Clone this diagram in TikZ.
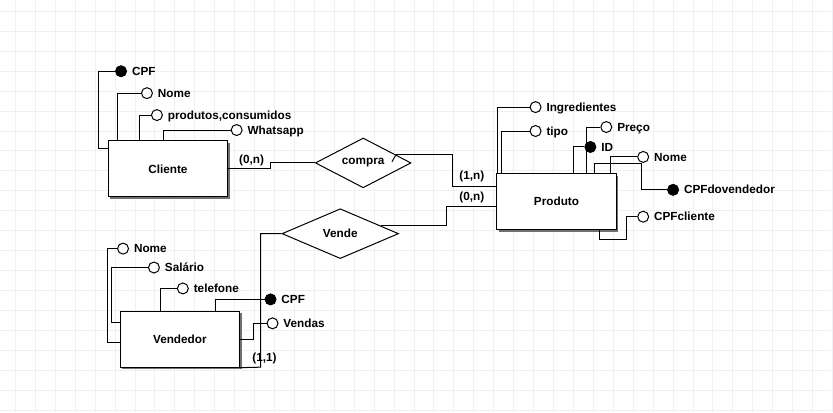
\documentclass[tikz,border=0pt]{standalone}
\usepackage{fontspec}
\setmainfont{Liberation Sans}
\usetikzlibrary{shapes.geometric,shadows}
\definecolor{gridline}{RGB}{236,241,246}
\definecolor{shade}{RGB}{112,112,112}

\begin{document}
\begin{tikzpicture}[
x=1pt, y=-1pt,
line width=1pt,
font=\fontsize{11.8}{14}\selectfont\bfseries,
entity/.style={draw, fill=white, minimum width=120pt, minimum height=56pt, inner sep=0pt, drop shadow={shadow xshift=2pt, shadow yshift=-2pt, fill=shade, opacity=1}},
rel/.style={draw, fill=white, diamond, aspect=2, inner sep=0pt, minimum height=50pt},
attr/.style={circle, draw, fill=white, minimum size=11pt, inner sep=0pt, label={[lbl]right:#1}},
keyattr/.style={attr=#1, fill=black},
lbl/.style={inner sep=0pt, xshift=4.5pt, text height=8.4pt, text depth=0pt},
card/.style={inner sep=0pt}
]
\fill[white] (0,0) rectangle (833,413);
\foreach \x in {15,35,...,835} \draw[gridline] (\x,0) -- (\x,413);
\foreach \y in {11,31,...,411} \draw[gridline] (0,\y) -- (833,\y);
\useasboundingbox (0,0) rectangle (833,413);

\node[entity] (cli) at (168,169) {Cliente};
\node[entity] (prod) at (558,202) {Produto};
\node[entity] (vend) at (180,340) {Vendedor};
\node[rel, minimum width=96pt] (compra) at (364,163) {compra};
\node[rel, minimum width=117pt] (vende) at (341,234) {Vende};

\node[keyattr=CPF] (cpfC) at (121,71) {};
\node[attr=Nome] (nomeC) at (147,93) {};
\node[attr={produtos,consumidos}] (prodC) at (157,115) {};
\node[attr=Whatsapp] (whatC) at (237,130) {};

\node[attr=Ingredientes] (ingr) at (537,107) {};
\node[attr=tipo] (tipo) at (537,131) {};
\node[attr=Preço] (preco) at (608,127) {};
\node[keyattr=ID] (idP) at (592,147) {};
\node[attr=Nome] (nomeP) at (645,157) {};
\node[keyattr=CPFdovendedor] (cpfvend) at (675,190) {};
\node[attr=CPFcliente] (cpfcli) at (645,217) {};

\node[attr=Nome] (nomeV) at (123,249) {};
\node[attr=Salário] (salV) at (154,268) {};
\node[attr=telefone] (telV) at (183,289) {};
\node[keyattr=CPF] (cpfV) at (271,300) {};
\node[attr=Vendas] (vendas) at (273,324) {};

\node[card] (c1) at (252,161) {(0,n)};
\node[card] (c2) at (473,177) {(1,n)};
\node[card] (c3) at (473,198) {(0,n)};
\node[card] (c4) at (265,359) {(1,1)};

\draw (cpfC.west) -| (98,149) -- (cli.west |- 0,149);
\draw (nomeC.west) -| (cli.north -| 117,0);
\draw (prodC.west) -| (cli.north -| 139,0);
\draw (whatC.west) -| (cli.north -| 164,0);

\draw (ingr.west) -| (prod.north -| 499,0);
\draw (tipo.west) -| (prod.north -| 503,0);
\draw (preco.west) -| (prod.north -| 588,0);
\draw (idP.west) -| (prod.north -| 575,0);
\draw (nomeP.west) -| (prod.north -| 612,0);
\draw (cpfvend.west) -| (643,164) -| (prod.north -| 596,0);
\draw (cpfcli.west) -| (628,240) -| (prod.south -| 601,0);

\draw (nomeV.west) -| (107,343) -- (vend.west |- 0,343);
\draw (salV.west) -| (111,323) -- (vend.west |- 0,323);
\draw (telV.west) -| (vend.north -| 161,0);
\draw (cpfV.west) -| (vend.north -| 216,0);
\draw (vendas.west) -| (254,340) -- (vend.east);

\draw (cli.east) -| (271,163) -- (compra.west);
\draw (compra.14) -| (454,187) -- (prod.west |- 0,187);
\draw (compra.14) -- ++(-4,7);
\draw (vende.11) -| (448,207) -- (prod.west |- 0,207);
\draw (vende.west) -| (261,368) -- (vend.south east);
\end{tikzpicture}
\end{document}
